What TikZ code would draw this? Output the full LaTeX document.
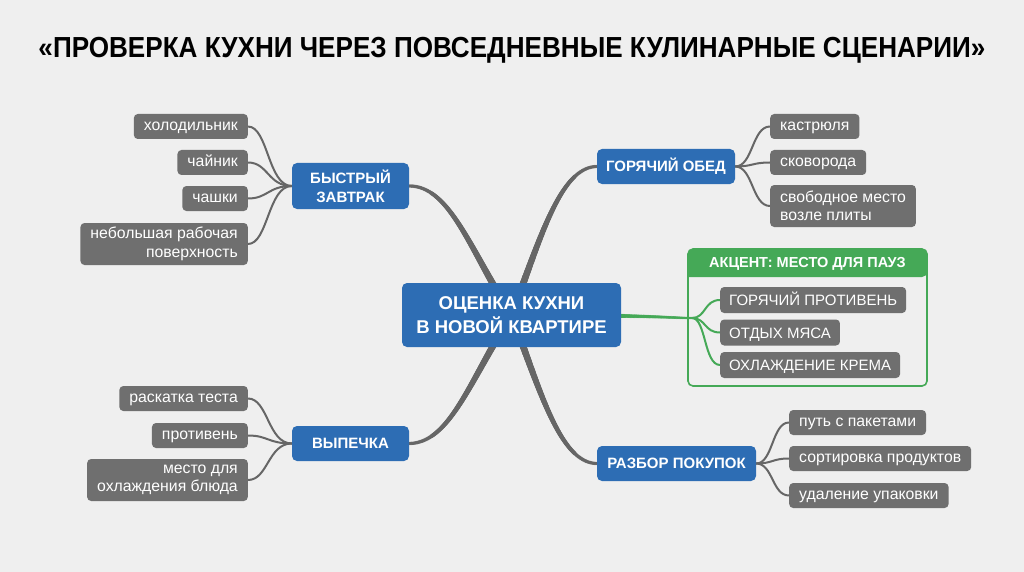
\documentclass[tikz,border=0pt]{standalone}
\usepackage{fontspec}
\setmainfont{Liberation Sans}
\usetikzlibrary{backgrounds,decorations.markings}
\definecolor{bg}{HTML}{EFEFEF}
\definecolor{blu}{HTML}{2D6DB4}
\definecolor{lf}{HTML}{6F6F6F}
\definecolor{ln}{HTML}{666666}
\definecolor{grn}{HTML}{45A957}
\tikzset{
  leafbase/.style={fill=lf, text=white, rounded corners=4pt, font=\fontsize{15.8}{18.5}\selectfont, inner xsep=10pt, inner ysep=0pt, minimum height=25pt},
  one/.style={text height=11.5pt, text depth=3.5pt},
  leafL/.style={leafbase, align=right, anchor=east},
  leafR/.style={leafbase, align=left, anchor=west},
  gitem/.style={fill=lf, text=white, rounded corners=4pt, font=\fontsize{15}{18}\selectfont, inner xsep=9pt, inner ysep=0pt, minimum height=26pt, text height=11pt, text depth=0pt, anchor=west},
  branch/.style={fill=blu, text=white, rounded corners=5pt, font=\bfseries\fontsize{15}{19}\selectfont, align=center, inner sep=0pt, minimum height=35pt},
  taper/.style n args={3}{decorate, decoration={markings,
     mark=between positions 0 and 1 step 0.8pt with {\fill[#1] (0,0) circle ({#2+(#3-#2)*\pgfkeysvalueof{/pgf/decoration/mark info/distance from start}/\pgfdecoratedpathlength});}}},
  mainline/.style={taper={ln}{1.7pt}{3.8pt}},
  leafline/.style={draw=ln, line width=2pt},
  gline/.style={draw=grn, line width=2pt},
}
\begin{document}
\begin{tikzpicture}[x=1pt,y=-1pt]
\begin{scope}[on background layer]
\fill[bg] (0,0) rectangle (1024,572);
\end{scope}
\useasboundingbox (0,0) rectangle (1024,572);

\node[font=\bfseries\fontsize{29}{32}\selectfont] (title) at (512,50) {\resizebox{947pt}{\height}{«ПРОВЕРКА КУХНИ ЧЕРЕЗ ПОВСЕДНЕВНЫЕ КУЛИНАРНЫЕ СЦЕНАРИИ»}};

% centre
\node[fill=blu, text=white, rounded corners=5pt, font=\bfseries\fontsize{18.5}{24}\selectfont, align=center, inner sep=0pt, minimum width=219pt, minimum height=64pt] (c) at (511.5,315) {ОЦЕНКА КУХНИ\\В НОВОЙ КВАРТИРЕ};

% branches
\node[branch, minimum width=117pt, minimum height=46pt] (bz) at (350.5,186) {БЫСТРЫЙ\\ЗАВТРАК};
\node[branch, minimum width=117pt] (vy) at (350.5,443.5) {ВЫПЕЧКА};
\node[branch, minimum width=138pt] (go) at (666,166.5) {ГОРЯЧИЙ ОБЕД};
\node[branch, minimum width=159pt] (rp) at (676.5,463.5) {РАЗБОР ПОКУПОК};

% left leaves
\node[leafL, one] (l1) at (248,126.5) {холодильник};
\node[leafL, one] (l2) at (248,162.5) {чайник};
\node[leafL, one] (l3) at (248,198.5) {чашки};
\node[leafL, minimum height=42pt] (l4) at (248,244) {небольшая рабочая\\поверхность};
\node[leafL, one] (l5) at (248,398.5) {раскатка теста};
\node[leafL, one] (l6) at (248,435.5) {противень};
\node[leafL, minimum height=42pt] (l7) at (248,480) {место для\\охлаждения блюда};

% right leaves
\node[leafR, one] (r1) at (770,126.5) {кастрюля};
\node[leafR, one] (r2) at (770,162.5) {сковорода};
\node[leafR, minimum height=42pt] (r3) at (770,206) {свободное место\\возле плиты};
\node[leafR, one] (r4) at (789,422.5) {путь с пакетами};
\node[leafR, one] (r5) at (789,458.5) {сортировка продуктов};
\node[leafR, one] (r6) at (789,495.5) {удаление упаковки};

% accent box
\node[draw=grn, line width=1.6pt, rounded corners=5pt, minimum width=239pt, minimum height=137pt, inner sep=0pt] (acc) at (807.5,317.5) {};
\fill[grn, rounded corners=5pt] (688,249) -- (927,249) -- (927,277) [sharp corners] -- (688,277) [rounded corners=5pt] -- cycle;
\node[text=white, font=\bfseries\fontsize{14.5}{18}\selectfont] (acch) at (807.5,263.5) {АКЦЕНТ: МЕСТО ДЛЯ ПАУЗ};
\node[gitem] (g1) at (720,300) {ГОРЯЧИЙ ПРОТИВЕНЬ};
\node[gitem] (g2) at (720,332.5) {ОТДЫХ МЯСА};
\node[gitem] (g3) at (720,365) {ОХЛАЖДЕНИЕ КРЕМА};
\coordinate (gj) at (692,318);

\begin{scope}[on background layer]
% main connectors (tapered, thicker toward the centre)
\path[mainline] (bz.east) .. controls (450,186) and (470,250) .. (c.center);
\path[mainline] (vy.east) .. controls (450,443) and (470,380) .. (c.center);
\path[mainline] (go.west) .. controls (560,167) and (540,240) .. (c.center);
\path[mainline] (rp.west) .. controls (560,463) and (540,390) .. (c.center);
\path[taper={grn}{1.2pt}{3.3pt}] (gj) .. controls (670,318) and (650,315) .. (c.center);
% leaf connectors
\foreach \n in {l1,l2,l3,l4}{\draw[leafline] (bz.west) .. controls (268,186) and (268,0|-\n.east) .. (\n.east);}
\foreach \n in {l5,l6,l7}{\draw[leafline] (vy.west) .. controls (268,443.5) and (268,0|-\n.east) .. (\n.east);}
\foreach \n in {r1,r2,r3}{\draw[leafline] (go.east) .. controls (753,166.5) and (752,0|-\n.west) .. (\n.west);}
\foreach \n in {r4,r5,r6}{\draw[leafline] (rp.east) .. controls (773,463.5) and (772,0|-\n.west) .. (\n.west);}
\foreach \n in {g1,g2,g3}{\draw[gline] (gj) .. controls (706,318) and (704,0|-\n.west) .. (\n.west);}
\end{scope}
\end{tikzpicture}
\end{document}
